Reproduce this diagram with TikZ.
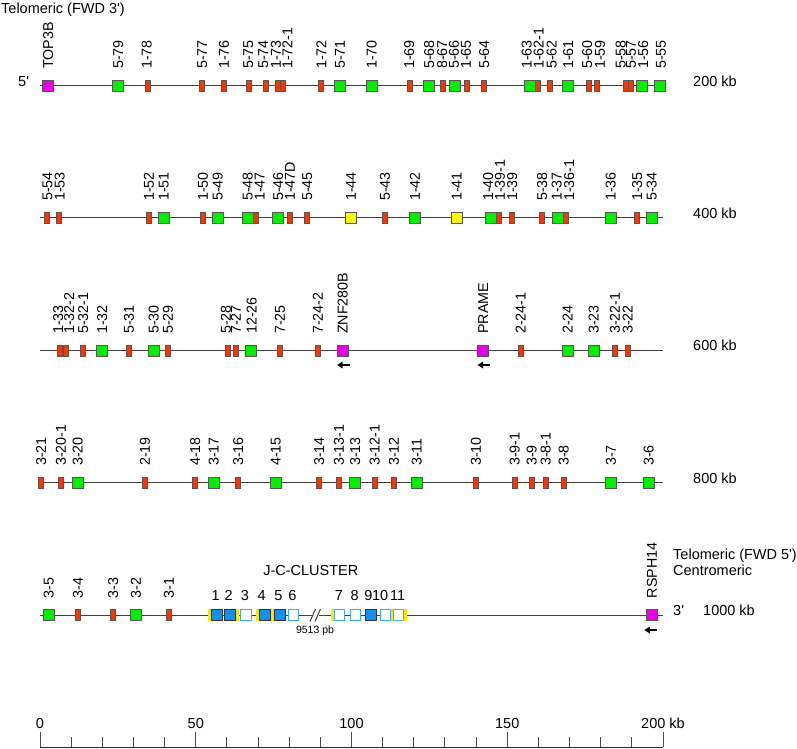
\documentclass[tikz,border=0pt]{standalone}
\usepackage{fontspec}
\setmainfont{Liberation Sans}
\usetikzlibrary{arrows.meta}
\definecolor{ggreen}{HTML}{00F000}
\definecolor{gred}{HTML}{FF3300}
\definecolor{gmag}{HTML}{E800E8}
\definecolor{gyel}{HTML}{FFFF00}
\definecolor{jblue}{HTML}{1090F0}
\definecolor{jwb}{HTML}{40A8F8}
\definecolor{jyel}{HTML}{FFE600}
\definecolor{bordergray}{HTML}{555555}
\definecolor{linegray}{HTML}{404040}
\begin{document}
\begin{tikzpicture}[x=1pt,y=-1pt,
  genebase/.style={draw=bordergray, line width=0.8pt, inner sep=0pt, minimum height=11pt},
  geneG/.style={genebase, fill=ggreen, minimum width=11pt},
  geneR/.style={genebase, fill=gred, minimum width=5pt},
  geneM/.style={genebase, fill=gmag, minimum width=11pt},
  geneY/.style={genebase, fill=gyel, minimum width=11pt},
  jcB/.style={draw=black!80, line width=0.8pt, fill=jblue, inner sep=0pt, minimum width=11pt, minimum height=11pt},
  jcW/.style={draw=jwb, line width=1pt, fill=white, inner sep=0pt, minimum width=10.5pt, minimum height=10.5pt},
  jbar/.style={fill=jyel, inner sep=0pt, minimum width=3pt, minimum height=12pt},
  lbl/.style={rotate=90, anchor=west, inner sep=0pt, font=\fontsize{14.3}{16}\selectfont},
  txt/.style={inner sep=0pt, font=\fontsize{14.5}{16}\selectfont},
  smalltxt/.style={inner sep=0pt, font=\fontsize{10.5}{12}\selectfont},
  chrom/.style={draw=linegray, line width=1pt},
  dirarrow/.style={-{Triangle[length=5.5pt,width=6.5pt]}, line width=1.7pt},
  scaleline/.style={draw=black!85, line width=1pt},
  tick/.style={draw=black!70, line width=1pt},
]
\useasboundingbox (0,0) rectangle (797,748);

% ---------- texts at the margins ----------
\node[txt, anchor=base west] (tel3) at (1,13) {Telomeric (FWD 3\textquotesingle)};
\node[txt, anchor=base west] (five) at (18,86.2) {5\textquotesingle};
\node[txt, anchor=base west] (k200) at (693,86.2) {200 kb};
\node[txt, anchor=base west] (k400) at (693,218.5) {400 kb};
\node[txt, anchor=base west] (k600) at (693,350.9) {600 kb};
\node[txt, anchor=base west] (k800) at (693,483.5) {800 kb};
\node[txt, anchor=base west] (tel5) at (673,559.5) {Telomeric (FWD 5\textquotesingle)};
\node[txt, anchor=base west] (cen) at (673,575.5) {Centromeric};
\node[txt, anchor=base west] (three) at (673,615.2) {3\textquotesingle};
\node[txt, anchor=base west] (k1000) at (703,615.2) {1000 kb};

% ---------- chromosome lines ----------
\coordinate (r1a) at (40,85.5);  \coordinate (r1b) at (665,85.5);
\coordinate (r2a) at (40,217.5); \coordinate (r2b) at (663,217.5);
\coordinate (r3a) at (40,350.5); \coordinate (r3b) at (663,350.5);
\coordinate (r4a) at (38,482.5); \coordinate (r4b) at (663,482.5);
\coordinate (r5a) at (40,615);   \coordinate (r5b) at (663,615);
\draw[chrom] (r1a) -- (r1b);
\draw[chrom] (r2a) -- (r2b);
\draw[chrom] (r3a) -- (r3b);
\draw[chrom] (r4a) -- (r4b);
\draw[chrom] (r5a) -- (r5b);

% ---------- row 1 ----------
\foreach \x/\lx/\t/\s [count=\n] in {
 48.3/48.3/geneM/TOP3B, 118.3/118.3/geneG/5-79, 147.7/146.7/geneR/1-78,
 202.3/202.3/geneR/5-77, 224/224/geneR/1-76, 248.7/248.3/geneR/5-75,
 266/263.3/geneR/5-74, 278.3/276/geneR/1-73, 283/287.3/geneR/1-72-1,
 321.3/321.3/geneR/1-72, 340/340/geneG/5-71, 371.7/371.7/geneG/1-70,
 410/409.3/geneR/1-69, 429.3/429.3/geneG/5-68, 442.7/442.3/geneR/8-67,
 455/454/geneG/5-66, 466.7/466/geneR/1-65, 484/484.3/geneR/5-64,
 530.3/526.7/geneG/1-63, 538.3/538.7/geneR/1-62-1, 549.7/551.7/geneR/5-62,
 568.3/568.3/geneG/1-61, 588.7/587.3/geneR/5-60, 596.7/600/geneR/1-59,
 625.7/620.7/geneR/5-58, 631/631/geneR/5-57, 642.3/643.3/geneG/1-56,
 660.3/661/geneG/5-55}{
  \node[\t] (a\n) at (\x,85.5) {};
  \node[lbl] (al\n) at (\lx,69) {\s};
}

% ---------- row 2 ----------
\foreach \x/\lx/\t/\s [count=\n] in {
 47/47.5/geneR/5-54, 59.3/59.8/geneR/1-53, 149/149/geneR/1-52,
 163.7/163.7/geneG/1-51, 203/203/geneR/1-50, 217.7/217.7/geneG/5-49,
 247.7/247.7/geneG/5-48, 255.7/259.8/geneR/1-47, 278.3/278.3/geneG/5-46,
 290/290/geneR/1-47D, 307.3/307.3/geneR/5-45, 351/351/geneY/1-44,
 385/385/geneR/5-43, 415/415/geneG/1-42, 456.7/456.7/geneY/1-41,
 490.7/488.3/geneG/1-40, 499/500/geneR/1-39-1, 512.3/512.3/geneR/1-39,
 542.3/542.3/geneR/5-38, 558.3/556.7/geneG/1-37, 566/569.3/geneR/1-36-1,
 610.7/610.7/geneG/1-36, 637.3/637.3/geneR/1-35, 651.7/651.7/geneG/5-34}{
  \node[\t] (b\n) at (\x,217.5) {};
  \node[lbl] (bl\n) at (\lx,201) {\s};
}

% ---------- row 3 ----------
\foreach \x/\lx/\t/\s [count=\n] in {
 60.3/58.3/geneR/1-33, 65.8/69.3/geneR/1-32-2, 83/83.3/geneR/5-32-1,
 102.3/102.3/geneG/1-32, 129/129/geneR/5-31, 153.7/153.7/geneG/5-30,
 168/168/geneR/5-29, 227.7/226/geneR/5-28, 236/236/geneR/7-27,
 250.7/251.7/geneG/12-26, 280/280/geneR/7-25, 318/318/geneR/7-24-2,
 342.7/342.7/geneM/ZNF280B, 483.3/483.3/geneM/PRAME, 520.7/520.7/geneR/2-24-1,
 567.7/567.7/geneG/2-24, 593.7/593.7/geneG/3-23, 615/615/geneR/3-22-1,
 627.7/627.7/geneR/3-22}{
  \node[\t] (c\n) at (\x,350.5) {};
  \node[lbl] (cl\n) at (\lx,334) {\s};
}
\coordinate (zA) at (349.5,365); \coordinate (zB) at (337,365);
\draw[dirarrow] (zA) -- (zB);
\coordinate (pA) at (490,365); \coordinate (pB) at (477.5,365);
\draw[dirarrow] (pA) -- (pB);

% ---------- row 4 ----------
\foreach \x/\t/\s [count=\n] in {
 41.3/geneR/3-21, 61/geneR/3-20-1, 77.7/geneG/3-20, 145/geneR/2-19,
 195.3/geneR/4-18, 213.7/geneG/3-17, 238.3/geneR/3-16, 275.7/geneG/4-15,
 319.3/geneR/3-14, 339/geneR/3-13-1, 355.3/geneG/3-13, 374.7/geneR/3-12-1,
 394/geneR/3-12, 416.7/geneG/3-11, 476/geneR/3-10, 514.7/geneR/3-9-1,
 531.7/geneR/3-9, 545.7/geneR/3-8-1, 563.7/geneR/3-8, 611/geneG/3-7,
 648.7/geneG/3-6}{
  \node[\t] (d\n) at (\x,482.5) {};
  \node[lbl] (dl\n) at (\x,466) {\s};
}

% ---------- row 5 ----------
\foreach \x/\t/\s [count=\n] in {
 48.7/geneG/3-5, 78/geneR/3-4, 113.3/geneR/3-3, 136/geneG/3-2,
 169/geneR/3-1, 652/geneM/RSPH14}{
  \node[\t] (e\n) at (\x,615) {};
  \node[lbl] (el\n) at (\x,598.5) {\s};
}
\coordinate (rA) at (656.7,630); \coordinate (rB) at (644.3,630);
\draw[dirarrow] (rA) -- (rB);

% J-C cluster
\node[jbar] (jy1) at (209.6,615) {};
\node[jcB] (j1) at (216.7,615) {};
\node[jcB] (j2) at (229.7,615) {};
\node[jbar] (jy2) at (237.6,615) {};
\node[jcW] (j3) at (246,615) {};
\node[jbar] (jy3) at (257,615) {};
\node[jcB] (j4) at (265,615) {};
\node[jbar] (jy4) at (272.7,615) {};
\node[jcB] (j5) at (280.3,615) {};
\node[jcW] (j6) at (293.7,615) {};
\node[jbar] (jy5) at (332.8,615) {};
\node[jcW] (j7) at (339.7,615) {};
\node[jcW] (j8) at (355.7,615) {};
\node[jcB] (j9) at (370.7,615) {};
\node[jcW] (j10) at (385.3,615) {};
\node[jbar] (jy6) at (392.4,615) {};
\node[jcW] (j11) at (398.6,615) {};
\node[jbar] (jy7) at (405,615) {};

\foreach \x/\s [count=\n] in {215.7/1, 228.7/2, 245/3, 261.7/4, 278.3/5, 292.3/6,
  339/7, 354.7/8, 368.3/9, 380.2/10, 397.6/11}{
  \node[txt, anchor=base] (jn\n) at (\x,600) {\s};
}
\node[txt, anchor=base] (jct) at (310.8,575) {J-C-CLUSTER};

% break mark
\fill[white] (311.5,613.5) rectangle (319,616.5);
\coordinate (s1a) at (310,621.5); \coordinate (s1b) at (315.5,609);
\coordinate (s2a) at (315,621.5); \coordinate (s2b) at (320.5,609);
\draw[linegray, line width=1pt] (s1a) -- (s1b);
\draw[linegray, line width=1pt] (s2a) -- (s2b);
\node[smalltxt, anchor=base] (gap) at (315,633.3) {9513 pb};

% ---------- scale ----------
\coordinate (sc0) at (40,747); \coordinate (sc1) at (663,747);
\draw[scaleline] (sc0) -- (sc1);
\foreach \k in {0,10,...,200}{
  \pgfmathsetmacro\sx{40+\k*3.115}
  \pgfmathsetmacro\ok{mod(\k,50)==0 ? 1 : 0}
  \ifdim\ok pt>0.5pt
    \draw[tick] (\sx,747) -- (\sx,731.5);
  \else
    \draw[tick] (\sx,747) -- (\sx,737);
  \fi
}
\node[txt, anchor=base] (l0) at (40,728) {0};
\node[txt, anchor=base] (l50) at (195.75,728) {50};
\node[txt, anchor=base] (l100) at (351.5,728) {100};
\node[txt, anchor=base] (l150) at (507.25,728) {150};
\node[txt, anchor=base west] (l200) at (641,728) {200 kb};
\end{tikzpicture}
\end{document}
